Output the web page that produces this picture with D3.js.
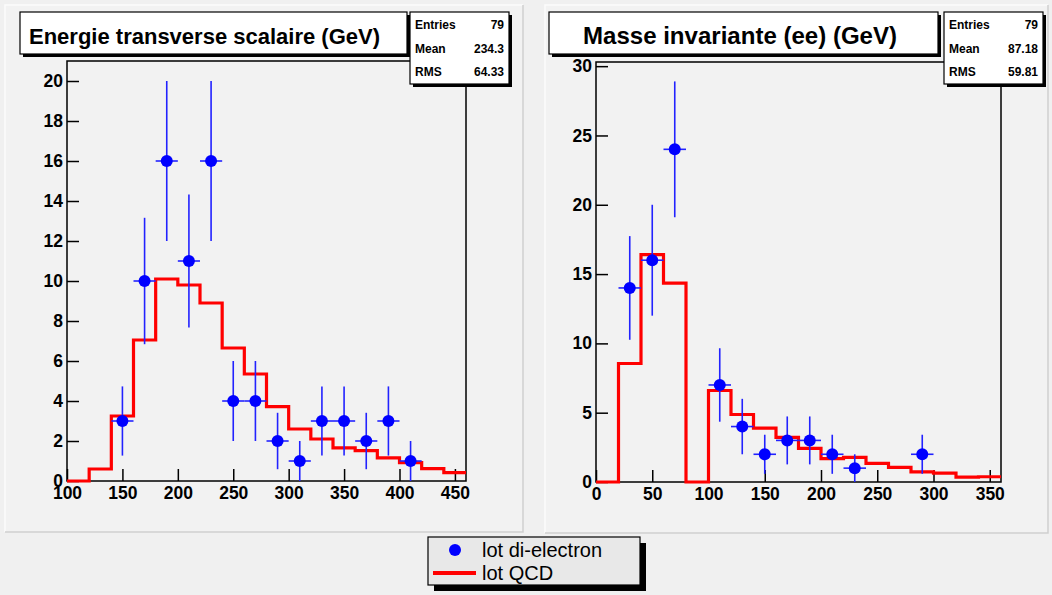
<!DOCTYPE html>
<html>
<head>
<meta charset="utf-8">
<script src="https://cdn.jsdelivr.net/npm/d3@7"></script>
<style>
  html, body { margin: 0; padding: 0; background: #f0f0f0; }
  svg { display: block; font-family: "Liberation Sans", Arial, sans-serif; }
</style>
</head>
<body>
<svg id="chart" width="1052" height="595"></svg>
<script>
// --- données ---
// Energie transverse scalaire
const etBinEdges = [100,120,140,160,180,200,220,240,260,280,300,320,340,360,380,400,420,440,460];
const etQcd = [0, 0.6, 3.25, 7.05, 10.1, 9.8, 8.9, 6.65, 5.35, 3.72, 2.6, 2.1, 1.66, 1.52, 1.16, 0.92, 0.62, 0.42];
const etDataX = [150,170,190,210,230,250,270,290,310,330,350,370,390,410];
const etDataY = [3,10,16,11,16,4,4,2,1,3,3,2,3,1];
const etDataErr = [1.73,3.16,4,3.32,4,2,2,1.41,1,1.73,1.73,1.41,1.73,1];
const etXTicks = [100,150,200,250,300,350,400,450];
const etYTicks = [0,2,4,6,8,10,12,14,16,18,20];
const etStats = ["79", "234.3", "64.33"];

// Masse invariante (ee)
const mBinEdges = [0,20,40,60,80,100,120,140,160,180,200,220,240,260,280,300,320,340,360];
const mQcd = [0, 8.55, 16.4, 14.35, 0, 6.6, 4.87, 3.88, 3.22, 2.42, 1.68, 1.78, 1.35, 1.06, 0.73, 0.64, 0.35, 0.38];
const mDataX = [30,50,70,110,130,150,170,190,210,230,290];
const mDataY = [14,16,24,7,4,2,3,3,2,1,2];
const mDataErr = [3.74,4,4.9,2.65,2,1.41,1.73,1.73,1.41,1,1.41];
const mXTicks = [0,50,100,150,200,250,300,350];
const mYTicks = [0,5,10,15,20,25,30];
const mStats = ["79", "87.18", "59.81"];

const statsLabels = ["Entries", "Mean", "RMS"];
const legendLabels = ["lot di-electron", "lot QCD"];

const svg = d3.select('#chart');

// pads (fond gris, bord en relief)
function drawPad(x, y, w, h) {
    svg.append('rect').attr('x', x).attr('y', y).attr('width', w).attr('height', h)
        .attr('fill', '#f2f2f2');
    svg.append('path').attr('d', `M${x},${y+h}V${y}H${x+w}`)
        .attr('fill', 'none').attr('stroke', '#fbfbfb').attr('stroke-width', 1.5);
    svg.append('path').attr('d', `M${x},${y+h}H${x+w}V${y}`)
        .attr('fill', 'none').attr('stroke', '#cfcfcf').attr('stroke-width', 1.5);
}
drawPad(5, 5, 518, 527);
drawPad(545, 5, 503, 528);

// boîte avec ombre portée (titre, stats)
function shadowBox(x, y, w, h, off, fill) {
    svg.append('rect').attr('x', x + off).attr('y', y + off).attr('width', w).attr('height', h)
        .attr('fill', '#000');
    svg.append('rect').attr('x', x).attr('y', y).attr('width', w).attr('height', h)
        .attr('fill', fill).attr('stroke', '#000').attr('stroke-width', 1.2);
}

function drawPanel(cfg) {
    const x = d3.scaleLinear().domain(cfg.xDomain).range([cfg.x0, cfg.x1]);
    const y = d3.scaleLinear().domain(cfg.yDomain).range([cfg.y1, cfg.y0]);

    // cadre
    svg.append('rect').attr('x', cfg.x0).attr('y', cfg.y0)
        .attr('width', cfg.x1 - cfg.x0).attr('height', cfg.y1 - cfg.y0)
        .attr('fill', '#f2f2f2').attr('stroke', '#000').attr('stroke-width', 1.5);

    // axe X : graduations vers l'intérieur
    const gx = svg.append('g').attr('transform', `translate(0,${cfg.y1})`);
    gx.call(d3.axisBottom(x).tickValues(d3.range(cfg.xDomain[0], cfg.xDomain[1] + 0.01, cfg.xMinor))
        .tickSize(-6).tickFormat(''));
    gx.call(d3.axisBottom(x).tickValues(cfg.xTicks).tickSize(-12).tickPadding(5).tickFormat(d3.format('d')));
    gx.selectAll('.domain').remove();
    gx.selectAll('line').attr('stroke', '#000').attr('stroke-width', 1.5);
    gx.selectAll('text').attr('font-size', 17.5).attr('font-weight', 'bold').attr('fill', '#000')
        .attr('y', 6).attr('dy', '0.71em');

    // axe Y
    const gy = svg.append('g').attr('transform', `translate(${cfg.x0},0)`);
    gy.call(d3.axisLeft(y).tickValues(d3.range(cfg.yDomain[0], cfg.yDomain[1] + 0.01, cfg.yMinor))
        .tickSize(-6).tickFormat(''));
    gy.call(d3.axisLeft(y).tickValues(cfg.yTicks).tickSize(-12).tickPadding(4).tickFormat(d3.format('d')));
    gy.selectAll('.domain').remove();
    gy.selectAll('line').attr('stroke', '#000').attr('stroke-width', 1.5);
    gy.selectAll('text').attr('font-size', 17.5).attr('font-weight', 'bold').attr('fill', '#000');

    // histogramme QCD (rouge, en escalier)
    const pts = cfg.qcd.map((v, i) => [cfg.edges[i], v]);
    pts.push([cfg.edges[cfg.edges.length - 1], cfg.qcd[cfg.qcd.length - 1]]);
    const line = d3.line().x(d => x(d[0])).y(d => y(d[1])).curve(d3.curveStepAfter);
    svg.append('path').datum(pts).attr('d', line)
        .attr('fill', 'none').attr('stroke', '#ff0000').attr('stroke-width', 3.2)
        .attr('stroke-linejoin', 'miter');

    // points de données avec barres d'erreur
    const half = (cfg.edges[1] - cfg.edges[0]) / 2;
    const g = svg.append('g');
    cfg.dataX.forEach((xv, i) => {
        const yv = cfg.dataY[i], e = cfg.dataErr[i];
        g.append('line').attr('x1', x(xv - half)).attr('x2', x(xv + half))
            .attr('y1', y(yv)).attr('y2', y(yv))
            .attr('stroke', '#2222ff').attr('stroke-width', 1.6);
        g.append('line').attr('x1', x(xv)).attr('x2', x(xv))
            .attr('y1', y(Math.max(0, yv - e))).attr('y2', y(yv + e))
            .attr('stroke', '#2222ff').attr('stroke-width', 1.6);
        g.append('circle').attr('cx', x(xv)).attr('cy', y(yv)).attr('r', 6)
            .attr('fill', '#0000ff');
    });

    // titre
    shadowBox(cfg.title.x, 12, cfg.title.w, 42, 3, '#fff');
    svg.append('text').attr('x', cfg.title.tx).attr('y', cfg.title.ty)
        .attr('text-anchor', cfg.title.anchor)
        .attr('font-size', cfg.title.size).attr('font-weight', 'bold').attr('fill', '#000')
        .attr('textLength', cfg.title.len).attr('lengthAdjust', 'spacingAndGlyphs')
        .text(cfg.title.text);

    // boîte de statistiques
    shadowBox(cfg.stats.x, 12, 99, 72, 3, '#fff');
    const rowsY = [29, 53, 76];
    statsLabels.forEach((lab, i) => {
        svg.append('text').attr('x', cfg.stats.x + 5).attr('y', rowsY[i])
            .attr('font-size', 12).attr('font-weight', 'bold').text(lab);
        svg.append('text').attr('x', cfg.stats.x + 94).attr('y', rowsY[i])
            .attr('text-anchor', 'end')
            .attr('font-size', 12).attr('font-weight', 'bold').text(cfg.statsValues[i]);
    });
}

drawPanel({
    x0: 67, x1: 466, y0: 61, y1: 481,
    xDomain: [100, 460], yDomain: [0, 21], xMinor: 25, yMinor: 0.5,
    xTicks: etXTicks, yTicks: etYTicks,
    edges: etBinEdges, qcd: etQcd,
    dataX: etDataX, dataY: etDataY, dataErr: etDataErr,
    title: { x: 20, w: 387, tx: 29, ty: 44, size: 22, len: 351, anchor: 'start',
             text: 'Energie transverse scalaire (GeV)' },
    stats: { x: 410 }, statsValues: etStats
});

drawPanel({
    x0: 596, x1: 1001, y0: 62, y1: 482,
    xDomain: [0, 360], yDomain: [0, 30.3], xMinor: 25, yMinor: 1,
    xTicks: mXTicks, yTicks: mYTicks,
    edges: mBinEdges, qcd: mQcd,
    dataX: mDataX, dataY: mDataY, dataErr: mDataErr,
    title: { x: 549, w: 389, tx: 740, ty: 44, size: 24, len: 314, anchor: 'middle',
             text: 'Masse invariante (ee) (GeV)' },
    stats: { x: 944 }, statsValues: mStats
});

// légende
shadowBox(428, 537, 212, 48, 6, '#e8e8e8');
svg.append('circle').attr('cx', 455).attr('cy', 550).attr('r', 6).attr('fill', '#0000ff');
svg.append('line').attr('x1', 433).attr('x2', 476).attr('y1', 573).attr('y2', 573)
    .attr('stroke', '#ff0000').attr('stroke-width', 4);
legendLabels.forEach((lab, i) => {
    svg.append('text').attr('x', 482).attr('y', 557 + i * 23)
        .attr('font-size', 20).attr('fill', '#000').text(lab);
});
</script>
</body>
</html>
